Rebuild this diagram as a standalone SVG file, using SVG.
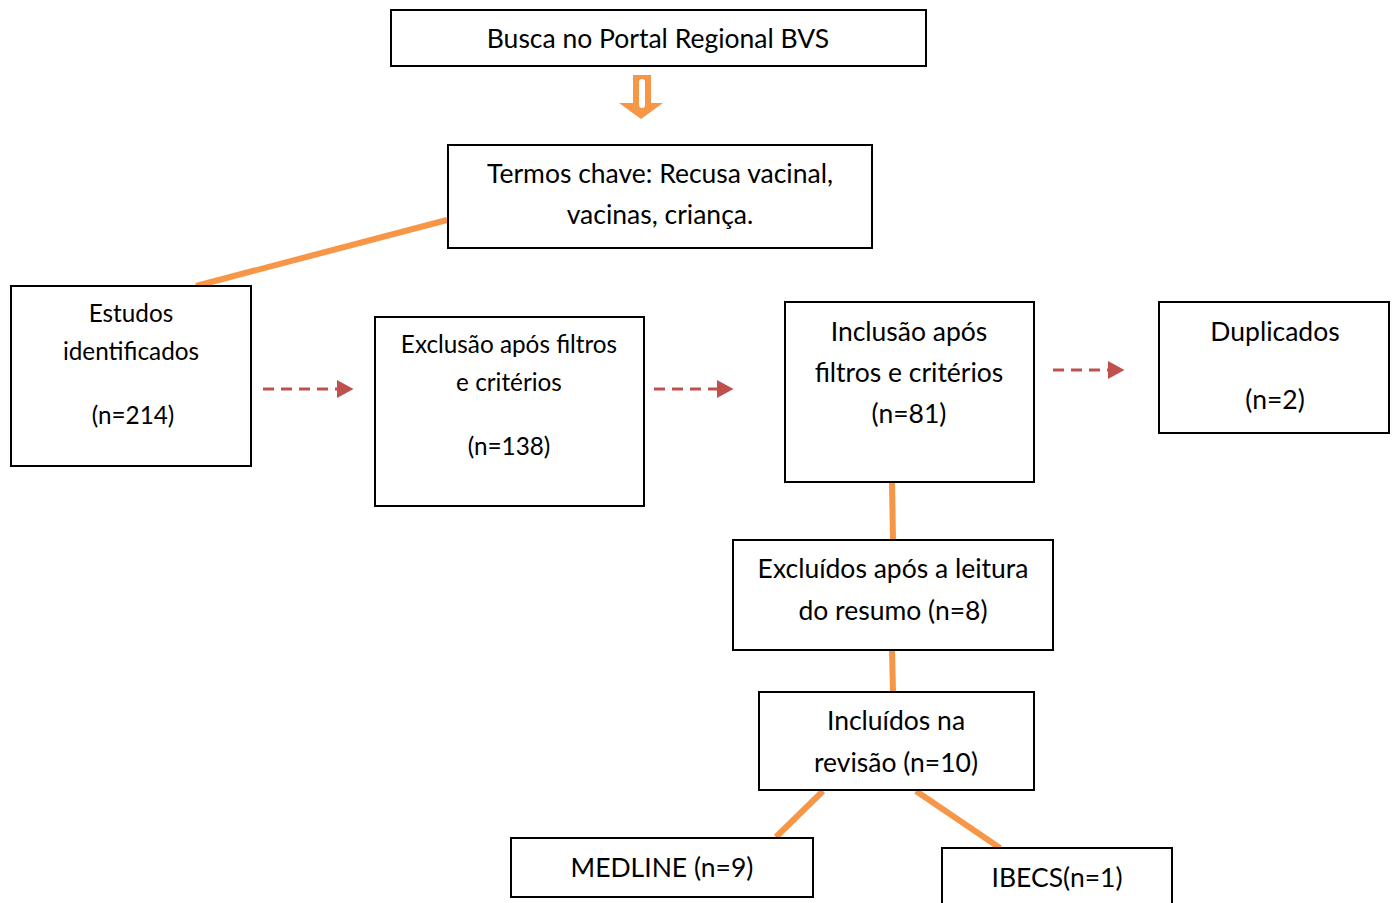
<svg xmlns="http://www.w3.org/2000/svg" width="1398" height="903" viewBox="0 0 1398 903">
<defs>
<style>
.box{fill:#fff;stroke:#000;stroke-width:2}
.t{font-family:Lato,"Open Sans","Liberation Sans",sans-serif;font-size:26.5px;fill:#000;text-anchor:middle}
.s{font-size:24.3px}
.ol{stroke:#F79646;stroke-width:6;fill:none}
.dl{stroke:#C0504D;stroke-width:3;stroke-dasharray:11 7;fill:none}
</style>
<marker id="ah" markerWidth="6" markerHeight="6" refX="0" refY="3" orient="auto" markerUnits="strokeWidth">
<path d="M0,0 L5.5,3 L0,6 Z" fill="#C0504D"/>
</marker>
</defs>
<rect width="1398" height="903" fill="#fff"/>
<g id="connectors">
<g id="hollow-arrow">
<polygon points="633,75 651,75 651,103 663,103 641,119 619,103 633,103" fill="#F79646"/>
<rect x="639" y="79" width="6" height="29" rx="3" fill="#fff"/>
</g>
<line class="ol" x1="447" y1="220" x2="196" y2="286"/>
<line class="ol" x1="892" y1="482" x2="893" y2="540"/>
<line class="ol" x1="892" y1="650" x2="893" y2="692"/>
<line class="ol" x1="823" y1="791" x2="776" y2="837"/>
<line class="ol" x1="916" y1="791" x2="1000" y2="848"/>
<line class="dl" x1="263" y1="389" x2="337" y2="389" marker-end="url(#ah)"/>
<line class="dl" x1="654" y1="389" x2="717" y2="389" marker-end="url(#ah)"/>
<line class="dl" x1="1053" y1="370" x2="1108" y2="370" marker-end="url(#ah)"/>
</g>
<g id="n1"><rect class="box" x="391" y="10" width="535" height="56"/><text class="t" x="658" y="48">Busca no Portal Regional BVS</text></g>
<g id="n2"><rect class="box" x="448" y="145" width="424" height="103"/><text class="t" x="660" y="183">Termos chave: Recusa vacinal,</text><text class="t" x="660" y="224">vacinas, criança.</text></g>
<g id="n3"><rect class="box" x="11" y="286" width="240" height="180"/><text class="t s" x="131" y="322">Estudos</text><text class="t s" x="131" y="360">identificados</text><text class="t s" x="133" y="424">(n=214)</text></g>
<g id="n4"><rect class="box" x="375" y="317" width="269" height="189"/><text class="t s" x="509" y="353">Exclusão após filtros</text><text class="t s" x="509" y="391">e critérios</text><text class="t s" x="509" y="455">(n=138)</text></g>
<g id="n5"><rect class="box" x="785" y="302" width="249" height="180"/><text class="t" x="909" y="341">Inclusão após</text><text class="t" x="909" y="382">filtros e critérios</text><text class="t" x="909" y="423">(n=81)</text></g>
<g id="n6"><rect class="box" x="1159" y="302" width="230" height="131"/><text class="t" x="1275" y="341">Duplicados</text><text class="t" x="1275" y="409">(n=2)</text></g>
<g id="n7"><rect class="box" x="733" y="540" width="320" height="110"/><text class="t" x="893" y="578">Excluídos após a leitura</text><text class="t" x="893" y="620">do resumo (n=8)</text></g>
<g id="n8"><rect class="box" x="759" y="692" width="275" height="98"/><text class="t" x="896" y="730">Incluídos na</text><text class="t" x="896" y="772">revisão (n=10)</text></g>
<g id="n9"><rect class="box" x="511" y="838" width="302" height="59"/><text class="t" x="662" y="877">MEDLINE (n=9)</text></g>
<g id="n10"><rect class="box" x="942" y="848" width="230" height="60"/><text class="t" x="1057" y="887">IBECS(n=1)</text></g>
</svg>
